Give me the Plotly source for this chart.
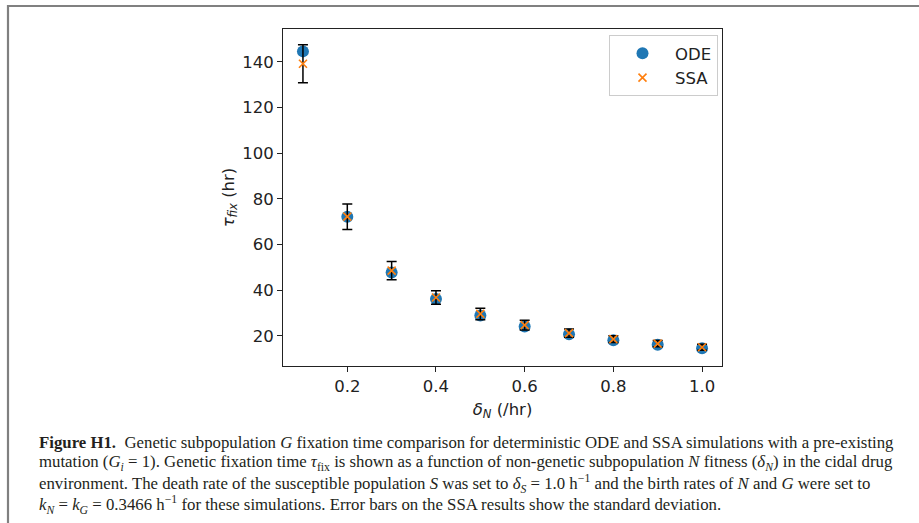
import plotly.graph_objects as go

delta_n = [0.1, 0.2, 0.3, 0.4, 0.5, 0.6, 0.7, 0.8, 0.9, 1.0]
ode_tau = [144.6, 72.2, 47.8, 36.1, 28.9, 24.1, 20.7, 18.1, 16.1, 14.6]
ssa_tau = [139.2, 72.2, 48.6, 36.8, 29.6, 24.7, 21.2, 18.6, 16.6, 15.0]
ssa_std = [8.3, 5.6, 4.0, 3.0, 2.5, 2.1, 1.8, 1.5, 1.4, 1.3]

x_ticks = [0.2, 0.4, 0.6, 0.8, 1.0]
y_ticks = [20, 40, 60, 80, 100, 120, 140]

W, H = 919, 523
L, R, T, B = 283, 722, 29, 366

def px(x):
    return (x - L) / (R - L)

def py(y):
    return (B - y) / (B - T)

fig = go.Figure()
fig.add_trace(go.Scatter(
    x=delta_n, y=ode_tau, mode="markers", name="ODE",
    marker=dict(symbol="circle", size=12, color="#1f77b4"),
))
fig.add_trace(go.Scatter(
    x=delta_n, y=ssa_tau, mode="markers", name="SSA",
    marker=dict(symbol="x-thin-open", size=8, color="#ff7f0e",
                line=dict(color="#ff7f0e", width=1.6)),
    error_y=dict(type="data", array=ssa_std, visible=True, color="black",
                 thickness=1.5, width=5),
))

FS = 16.5
axis_common = dict(
    showline=True, linecolor="#222", linewidth=1, mirror=True,
    ticks="outside", ticklen=5, tickwidth=1, tickcolor="#222",
    showgrid=False, zeroline=False,
    tickfont=dict(family="DejaVu Sans", size=FS, color="#222"),
)

fig.update_layout(
    width=W, height=H,
    margin=dict(l=L, r=W - R, t=T, b=H - B),
    paper_bgcolor="white", plot_bgcolor="white",
    xaxis=dict(range=[0.055, 1.045], tickvals=x_ticks,
               ticktext=[f"{v:.1f}" for v in x_ticks],
               title=dict(text="<i>δ<sub>N</sub></i> (/hr)", standoff=8,
                          font=dict(family="DejaVu Sans", size=FS, color="#222")),
               **axis_common),
    yaxis=dict(range=[6.8, 154.4], tickvals=y_ticks,
               title=dict(text="<i>τ<sub>fix</sub></i> (hr)", standoff=3,
                          font=dict(family="DejaVu Sans", size=FS, color="#222")),
               **axis_common),
    legend=dict(x=px(718), y=py(35), xanchor="right", yanchor="top",
                bgcolor="rgba(255,255,255,0.8)", bordercolor="#ccc", borderwidth=1,
                font=dict(family="DejaVu Sans", size=FS, color="#222"),
                itemwidth=55, tracegroupgap=0),
    showlegend=True,
)

# frame lines
fig.add_shape(type="line", xref="paper", yref="paper",
              x0=px(7), x1=px(919), y0=py(6), y1=py(6),
              line=dict(color="#808080", width=2.2))
fig.add_shape(type="line", xref="paper", yref="paper",
              x0=px(8), x1=px(8), y0=py(5), y1=py(523),
              line=dict(color="#808080", width=2.2))

cap_font = dict(family="Liberation Serif", size=16.8, color="#231f20")
lines = [
    "<b>Figure H1.</b>  Genetic subpopulation <i>G</i> fixation time comparison for deterministic ODE and SSA simulations with a pre-existing",
    "mutation (<i>G<sub>i</sub></i> = 1). Genetic fixation time <i>τ</i><sub>fix</sub> is shown as a function of non-genetic subpopulation <i>N</i> fitness (<i>δ<sub>N</sub></i>) in the cidal drug",
    "environment. The death rate of the susceptible population <i>S</i> was set to <i>δ<sub>S</sub></i> = 1.0 h<sup>−1</sup> and the birth rates of <i>N</i> and <i>G</i> were set to",
    "<i>k<sub>N</sub></i> = <i>k<sub>G</sub></i> = 0.3466 h<sup>−1</sup> for these simulations. Error bars on the SSA results show the standard deviation.",
]
ys = [442, 463, 484, 505]
for txt, yy in zip(lines, ys):
    fig.add_annotation(text=txt, xref="paper", yref="paper",
                       x=px(37), y=py(yy), xanchor="left", yanchor="middle",
                       showarrow=False, font=cap_font, align="left")

fig.write_html("out.html")
